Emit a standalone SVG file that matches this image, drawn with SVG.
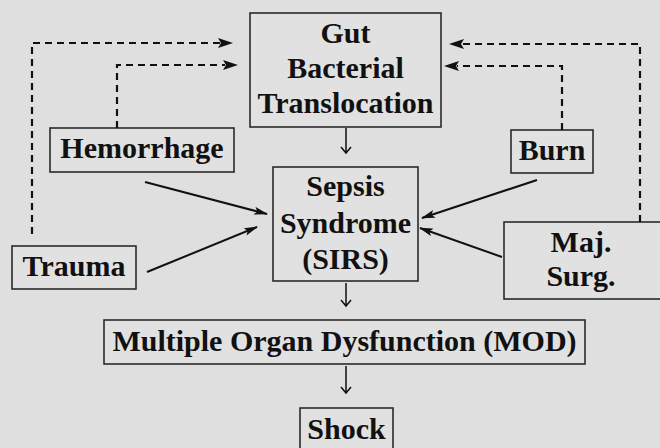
<svg xmlns="http://www.w3.org/2000/svg" width="660" height="448" viewBox="0 0 660 448">
<defs>
<style>
.bg{fill:#dfdfdf}
.box{fill:#e1e1e1;stroke:#2a2a2a;stroke-width:1.6}
.t{font-family:"Liberation Serif","Times New Roman",serif;font-weight:bold;font-size:30px;fill:#111;text-anchor:middle}
.dash{fill:none;stroke:#111;stroke-width:2.2;stroke-dasharray:7 5}
.solid{fill:none;stroke:#111;stroke-width:2}
.thin{fill:none;stroke:#111;stroke-width:1.5}
</style>
<marker id="fa" viewBox="0 0 14 8" refX="13" refY="4" markerWidth="14" markerHeight="8" markerUnits="userSpaceOnUse" orient="auto">
<path d="M0,0 L14,4 L0,8 L3,4 Z" fill="#111"/>
</marker>
</defs>
<rect class="bg" x="0" y="0" width="660" height="448"/>

<g id="gut">
<rect class="box" x="250" y="13" width="191" height="114"/>
<text class="t" x="345.5" y="43">Gut</text>
<text class="t" x="345.5" y="78">Bacterial</text>
<text class="t" x="345.5" y="113">Translocation</text>
</g>
<g id="hemorrhage">
<rect class="box" x="50" y="128" width="184" height="44"/>
<text class="t" x="142" y="158">Hemorrhage</text>
</g>
<g id="burn">
<rect class="box" x="511" y="130" width="82" height="43"/>
<text class="t" x="552" y="160">Burn</text>
</g>
<g id="sepsis">
<rect class="box" x="273" y="167" width="145" height="114"/>
<text class="t" x="345.5" y="196">Sepsis</text>
<text class="t" x="345.5" y="233">Syndrome</text>
<text class="t" x="345.5" y="269">(SIRS)</text>
</g>
<g id="trauma">
<rect class="box" x="12" y="246" width="124" height="43"/>
<text class="t" x="74" y="276">Trauma</text>
</g>
<g id="majsurg">
<rect class="box" x="504" y="222" width="170" height="77"/>
<text class="t" x="581" y="252">Maj.</text>
<text class="t" x="581" y="286">Surg.</text>
</g>
<g id="mod">
<rect class="box" x="104" y="320" width="481" height="44"/>
<text class="t" x="344.5" y="351">Multiple Organ Dysfunction (MOD)</text>
</g>
<g id="shock">
<rect class="box" x="300" y="408" width="93" height="50"/>
<text class="t" x="346.5" y="439">Shock</text>
</g>

<g id="connectors">
<polyline class="dash" points="32,234 32,43 220,43"/>
<path d="M218,38 L233,43 L218,48 L221,43 Z" fill="#111"/>
<polyline class="dash" points="117,128 117,65 225,65"/>
<path d="M223,60 L238,65 L223,70 L226,65 Z" fill="#111"/>
<polyline class="dash" points="640,222 640,44 462,44"/>
<path d="M464,39 L449,44 L464,49 L461,44 Z" fill="#111"/>
<polyline class="dash" points="562,130 562,66 457,66"/>
<path d="M459,61 L444,66 L459,71 L456,66 Z" fill="#111"/>

<line class="solid" x1="145" y1="182" x2="267" y2="214" marker-end="url(#fa)"/>
<line class="solid" x1="147" y1="272" x2="257" y2="227" marker-end="url(#fa)"/>
<line class="solid" x1="537" y1="180" x2="422" y2="218" marker-end="url(#fa)"/>
<line class="solid" x1="502" y1="257" x2="420" y2="228" marker-end="url(#fa)"/>

<path class="thin" d="M346,128 V153 M341,147 L346,153 L351,147"/>
<path class="thin" d="M346,283 V306 M341,300 L346,306 L351,300"/>
<path class="thin" d="M346,366 V393 M341,387 L346,393 L351,387"/>
</g>
</svg>
